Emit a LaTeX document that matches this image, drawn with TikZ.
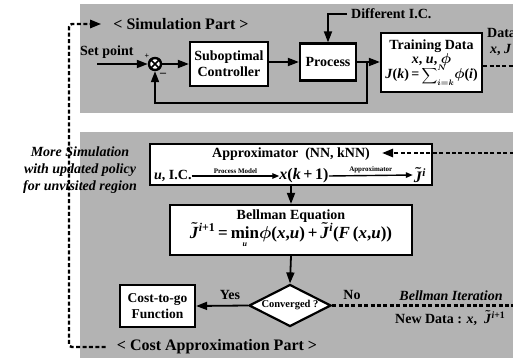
\documentclass[tikz,border=0pt]{standalone}
\usepackage{exscale}
\usepackage{fontspec}
\setmainfont{Liberation Serif}
\usetikzlibrary{arrows.meta,shapes.geometric}
\definecolor{panel}{RGB}{179,179,179}
\newcommand{\mi}[1]{\textit{#1}}
\newcommand{\jt}{$\tilde{\mbox{\mi{J}}}$}
\newcommand{\ph}{$\phi$}
\begin{document}
\begin{tikzpicture}[x=1pt,y=-1pt,
  box/.style={draw, line width=2.2pt, fill=white, align=center, inner sep=0pt,
    font=\boldmath\fontsize{14}{16}\selectfont\bfseries},
  lbl/.style={inner sep=0pt, font=\boldmath\fontsize{14}{16}\selectfont\bfseries},
  big/.style={inner sep=0pt, font=\boldmath\fontsize{16}{18}\selectfont\bfseries},
  ital/.style={inner sep=0pt, align=center, font=\boldmath\fontsize{14}{17}\selectfont\bfseries\itshape},
  small/.style={inner sep=0pt, font=\fontsize{7}{8}\selectfont\bfseries},
  arr/.style={line width=1.8pt, -{Triangle[length=11pt,width=8pt]}},
  thin arr/.style={line width=1.4pt, -{Triangle[length=7pt,width=5.5pt]}},
  dsh/.style={line width=2.4pt, dash pattern=on 4pt off 2.4pt}]
\useasboundingbox (0,0) rectangle (513,358);
% panels
\fill[panel] (80,4) rectangle (520,113);
\fill[panel] (80,132) rectangle (520,362);

% ---------- simulation part ----------
\node[big] (simtitle) at (181,24) {< Simulation Part >};
\node[lbl, anchor=west] (setpt) at (80,52) {Set point};
\coordinate (spin) at (97,64);
\node[circle, draw, line width=2.4pt, minimum size=12pt, inner sep=0pt, fill=white] (sum) at (155,64) {};
\draw[line width=1.6pt] (sum.north east) -- (sum.south west) (sum.north west) -- (sum.south east);
\node[inner sep=0pt, font=\bfseries\fontsize{8}{8}\selectfont] (plus) at (147,56) {+};
\node[inner sep=0pt, font=\bfseries\fontsize{12}{12}\selectfont] (minus) at (163,75) {--};

\node[box, minimum width=78pt, minimum height=44pt] (ctrl) at (229,64) {Suboptimal\\Controller};
\node[box, minimum width=56pt, minimum height=37pt] (proc) at (328,62) {Process};
\node[box, minimum width=101pt, minimum height=59pt] (train) at (431.5,62.5)
  {Training Data\\[-2pt] \mi{x}, \mi{u}, \ph\\[-2pt]
   \mi{J}(\mi{k})\,=\,{\fontsize{11}{11}\selectfont$\displaystyle\sum\nolimits_{i=k}^{N}$}\ph(\mi{i})};
\node[lbl, anchor=west] (dic) at (351,14) {Different I.C.};
\node[lbl, anchor=west] (data) at (487,33) {Data};
\node[lbl, anchor=west] (dataxj) at (490,50) {\mi{x}, \mi{J}};

\draw[arr] (spin) -- (sum.west);
\draw[arr] (sum.east) -- (ctrl.west |- sum.east);
\draw[arr] (ctrl.east |- proc.east) -- (proc.west);
\draw[arr] (proc.east) -- (train.west |- proc.east);
\coordinate (fb) at (367,62);
\coordinate (fbl) at (367,103);
\draw[arr] (fb) -- (fbl) -| (sum.south);
\draw[arr] ([xshift=-4pt]dic.west) -| (proc.north);
\coordinate (tr) at (520,66);
\draw[dsh] (train.east |- tr) -- (tr);

% ---------- cost approximation part ----------
\node[box, minimum width=282pt, minimum height=41pt] (approx) at (291,164.5) {};
\node[lbl] (aptitle) at (291,154) {Approximator\ \ (NN, kNN)};
\node[lbl, anchor=west] (uic) at (154,176) {\mi{u}, I.C.};
\node[inner sep=0pt, font=\boldmath\fontsize{16}{18}\selectfont\bfseries] (xk) at (304,176) {\mi{x}(\mi{k}\,+\,1)};
\node[inner sep=0pt, font=\boldmath\fontsize{16}{18}\selectfont\bfseries] (jti) at (420,175) {\jt\textsuperscript{\mi{i}}};
\draw[thin arr] (uic.east) -- (xk.west)
  node[midway, above=1.5pt, small] (pm) {Process Model};
\draw[thin arr] (xk.east) -- ([xshift=-1pt]jti.west)
  node[midway, above=1.5pt, small] (am) {Approximator};

\node[box, minimum width=242pt, minimum height=50pt] (bell) at (291,230)
  {Bellman Equation\\[-1pt]
   {\fontsize{17}{19}\selectfont \jt\textsuperscript{\mi{i}+1}\,=\,$\mathop{\mbox{min}}\limits_{\raisebox{2pt}{\fontsize{8}{8}\selectfont\mi{u}}}$\ph(\mi{x},\mi{u})\,+\,\jt\textsuperscript{\mi{i}}(\mi{F}\,(\mi{x},\mi{u}))}};
\node[diamond, draw, line width=2.2pt, fill=white, minimum width=82pt, minimum height=42pt, inner sep=0pt] (conv) at (290,305.5) {};
\node[inner sep=0pt, font=\fontsize{10.5}{12}\selectfont\bfseries] (convt) at (290,305.5) {Converged ?};
\node[box, minimum width=75pt, minimum height=42pt, font=\fontsize{13.5}{16}\selectfont\bfseries] (cost) at (157.5,306) {Cost-to-go\\Function};
\node[big] (costtitle) at (217,347) {< Cost Approximation Part >};

\draw[arr] (approx.south) -- (bell.north);
\draw[arr] (bell.south) -- (conv.north);
\draw[arr] (conv.west) -- (cost.east);
\node[lbl] (yes) at (230,295) {Yes};
\node[lbl] (no) at (352,295) {No};
\node[ital] (biter) at (451,296) {Bellman Iteration};
\node[lbl, anchor=west] (newdata) at (395,318) {New Data : \mi{x},\ \ \jt\textsuperscript{\mi{i}+1}};
\coordinate (dr) at (520,305.5);
\draw[dsh] (conv.east) -- (dr);
\coordinate (ar) at (520,153);
\draw[dsh, -{Triangle[length=11pt,width=8pt]}] (ar) -- (382,153);

% left loop
\node[ital] (more) at (80,170) {More Simulation\\with updated policy\\for unvisited region};
\coordinate (lc) at (69,200);
\draw[dsh, rounded corners=3pt, -{Triangle[length=11pt,width=8pt]}]
  ([xshift=-11pt]costtitle.west) -| (lc) |- ([xshift=-12pt]simtitle.west);
\end{tikzpicture}
\end{document}
